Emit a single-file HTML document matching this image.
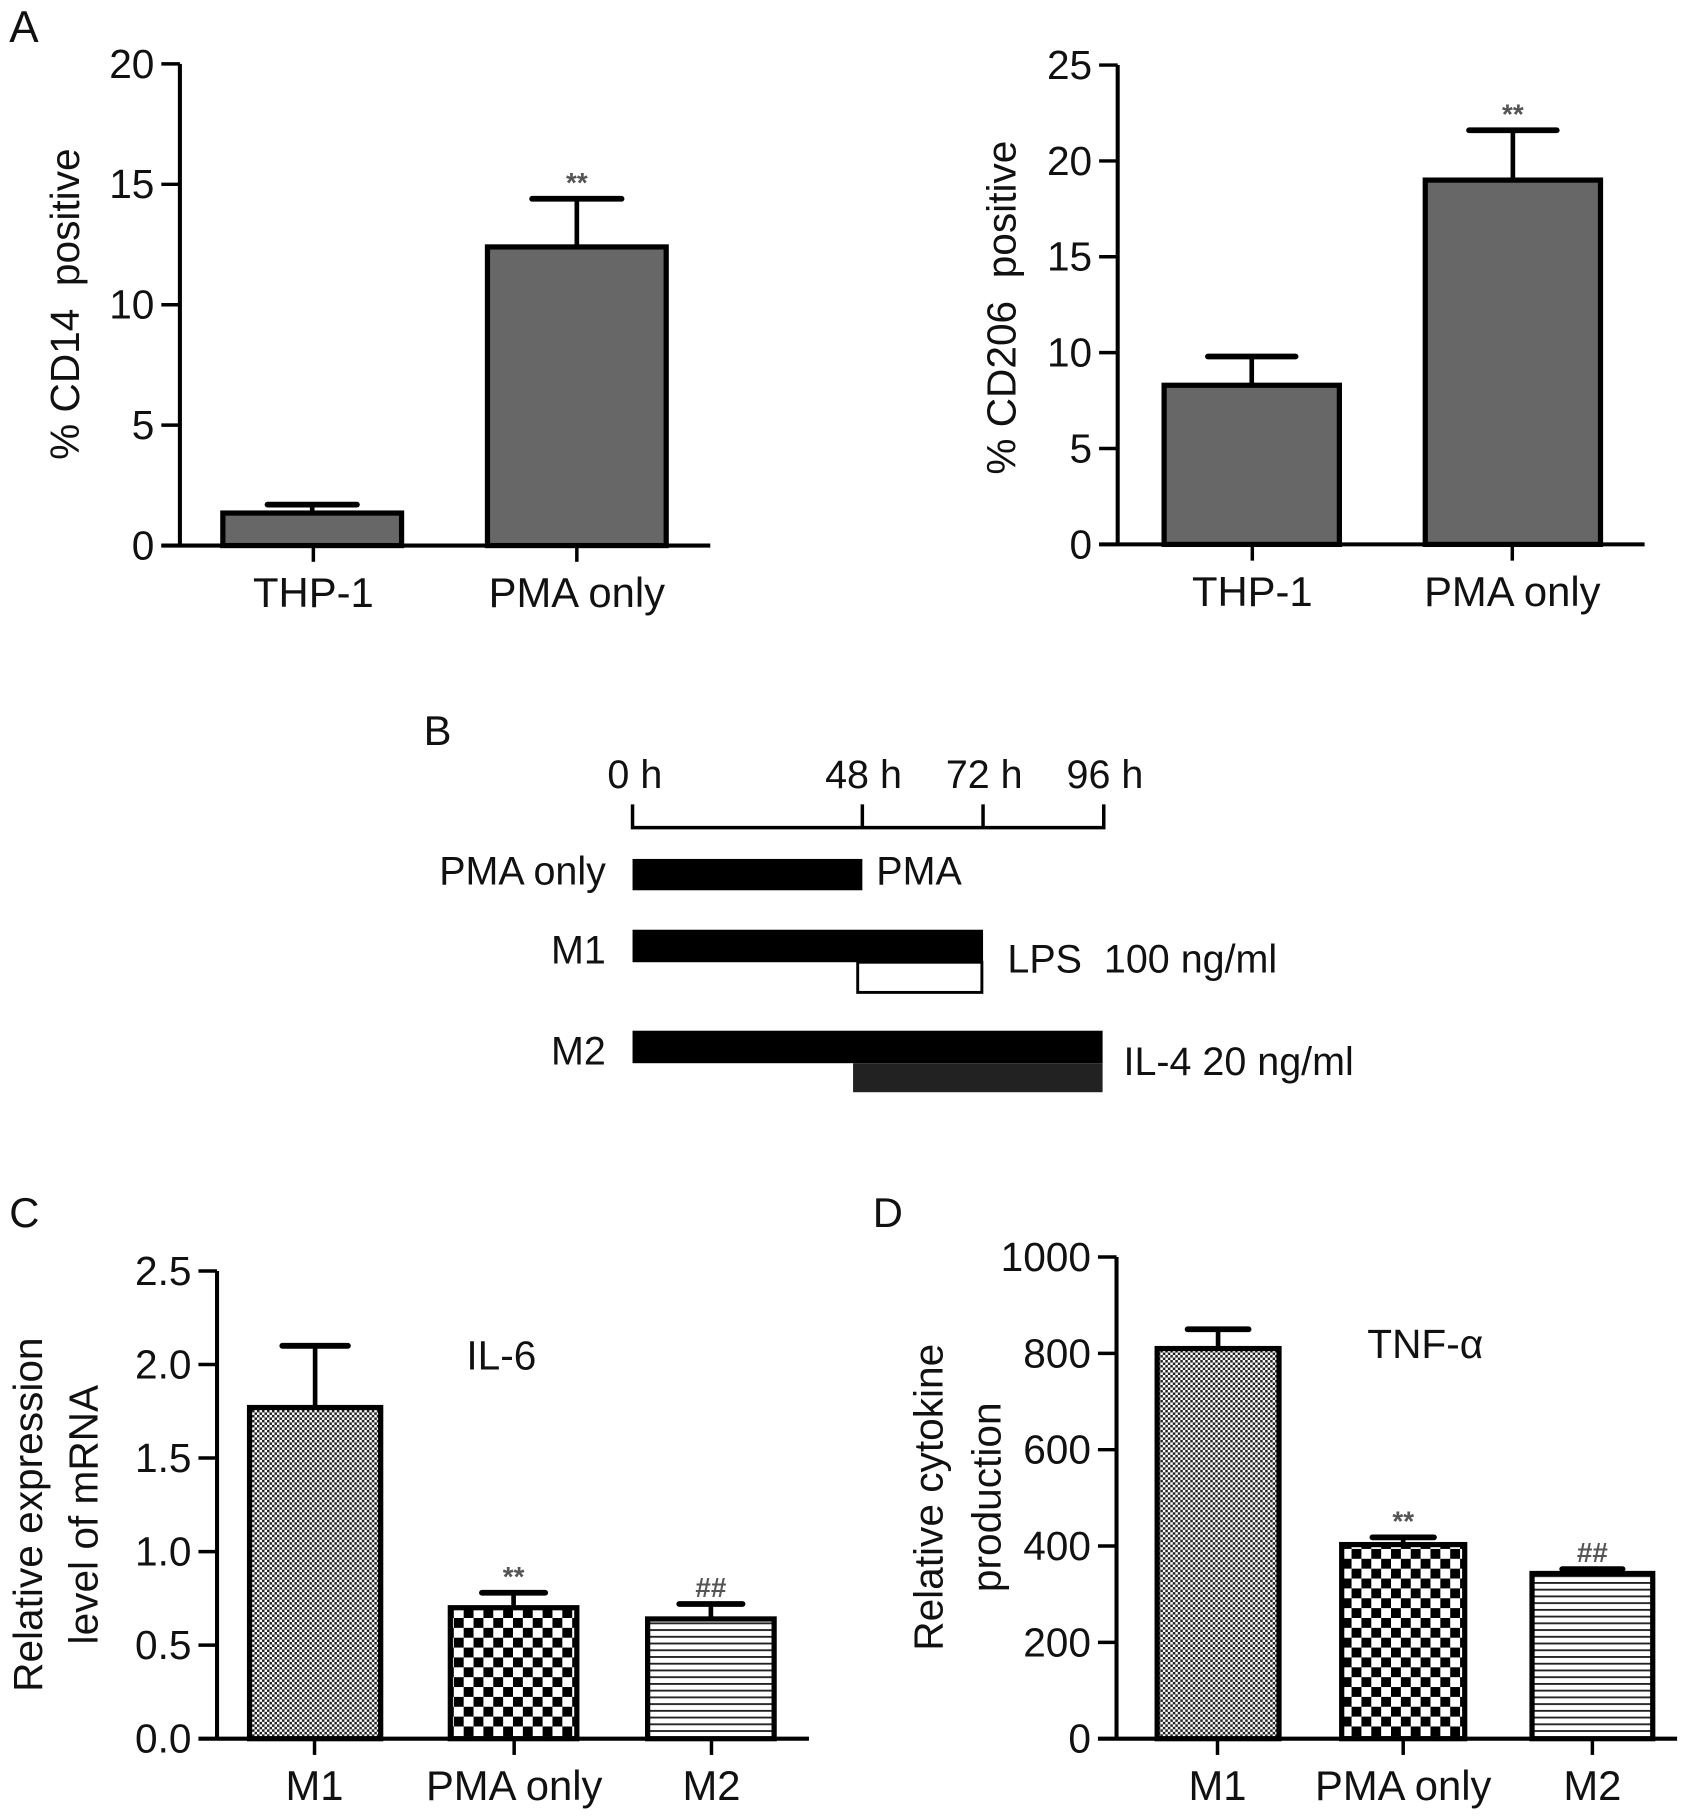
<!DOCTYPE html>
<html><head><meta charset="utf-8">
<style>
html,body{margin:0;padding:0;background:#fff;}
svg{display:block;}
text{font-family:"Liberation Sans",Arial,sans-serif;fill:#111;}
</style></head>
<body>
<svg id="fig" width="1698" height="1820" viewBox="0 0 1463 1568" xmlns="http://www.w3.org/2000/svg">
<defs>
<pattern id="pFine" patternUnits="userSpaceOnUse" width="4.3" height="4.3">
<rect width="4.3" height="4.3" fill="#fff"/>
<rect width="2.15" height="2.15" fill="#222"/>
<rect x="2.15" y="2.15" width="2.15" height="2.15" fill="#222"/>
</pattern>
<pattern id="pCheck" patternUnits="userSpaceOnUse" width="17" height="17">
<rect width="17" height="17" fill="#fff"/>
<rect width="8.5" height="8.5" fill="#000"/>
<rect x="8.5" y="8.5" width="8.5" height="8.5" fill="#000"/>
</pattern>
<pattern id="pLines" patternUnits="userSpaceOnUse" width="10" height="5.8">
<rect width="10" height="5.8" fill="#fff"/>
<rect y="0" width="10" height="1.6" fill="#222"/>
</pattern>
</defs>
<text x="8" y="36" font-size="38">A</text>
<text x="365" y="642" font-size="36">B</text>
<text x="8" y="1057" font-size="36">C</text>
<text x="752" y="1057" font-size="36">D</text>
<g>
<text x="547" y="679" font-size="34" text-anchor="middle">0 h</text>
<text x="744" y="679" font-size="34" text-anchor="middle">48 h</text>
<text x="848" y="679" font-size="34" text-anchor="middle">72 h</text>
<text x="952" y="679" font-size="34" text-anchor="middle">96 h</text>
<path d="M545 693 V713 H951 V693 M743 693 V713 M847 693 V713" fill="none" stroke="#000" stroke-width="3"/>
<rect x="545" y="740" width="198" height="27" fill="#000"/>
<text x="522" y="762" font-size="34" text-anchor="end">PMA only</text>
<text x="755" y="762" font-size="34">PMA</text>
<rect x="545" y="801" width="302" height="28" fill="#000"/>
<rect x="739" y="829" width="107" height="26" fill="#fff" stroke="#000" stroke-width="2.5"/>
<text x="522" y="830" font-size="34" text-anchor="end">M1</text>
<text x="868" y="838" font-size="34">LPS&#160;&#160;100 ng/ml</text>
<rect x="545" y="888" width="405" height="28" fill="#000"/>
<rect x="735" y="916" width="215" height="25" fill="#222"/>
<text x="522" y="917" font-size="34" text-anchor="end">M2</text>
<text x="968" y="926" font-size="34">IL-4 20 ng/ml</text>
</g>
<g id="root"></g>
</svg>
<script>
// Panel A left
const catsA = ["THP-1", "PMA only"];
const valsA1 = [1.35, 12.4];
const errA1 = [1.7, 14.4];
const ticksA1 = [0, 5, 10, 15, 20];
// Panel A right
const valsA2 = [8.3, 19.0];
const errA2 = [9.8, 21.6];
const ticksA2 = [0, 5, 10, 15, 20, 25];
// Panel C
const catsC = ["M1", "PMA only", "M2"];
const valsC = [1.77, 0.70, 0.64];
const errC = [2.10, 0.78, 0.72];
const ticksC = ["0.0", "0.5", "1.0", "1.5", "2.0", "2.5"];
// Panel D
const catsD = ["M1", "PMA only", "M2"];
const valsD = [810, 403, 343];
const errD = [850, 418, 352];
const ticksD = [0, 200, 400, 600, 800, 1000];
const sigA = ["", "**"];
const sigCD = ["", "**", "##"];

const NS = "http://www.w3.org/2000/svg";
const root = document.getElementById('root');
function mk(tag, attrs, parent, txt) {
  const e = document.createElementNS(NS, tag);
  for (const k in attrs) e.setAttribute(k, attrs[k]);
  if (txt !== undefined) e.textContent = txt;
  (parent || root).appendChild(e);
  return e;
}

function chart(o) {
  const g = mk('g', {});
  
  
  const y = v => o.y0 - (v - o.vmin) / (o.vmax - o.vmin) * (o.y0 - o.yTop);
  o.vals.forEach((v, i) => {
    const [l, r] = o.bars[i];
    const cx = (l + r) / 2, w = r - l;
    const eb = mk('line', {x1: cx, x2: cx, y1: y(v), y2: y(o.errs[i]), stroke: '#000', 'stroke-width': 4}, g);
    
    
    const cap = mk('line', {x1: cx - w * 0.25, x2: cx + w * 0.25, y1: y(o.errs[i]), y2: y(o.errs[i]), stroke: '#000', 'stroke-width': 5, 'stroke-linecap': 'round'}, g);
    
    
    const b = mk('rect', {x: l, y: y(v), width: w, height: o.y0 - y(v), fill: o.fills[i], stroke: '#000', 'stroke-width': 4.5}, g);
    
    
    if (o.sig[i]) {
      const s = mk('text', {x: cx, y: y(o.errs[i]) - 6, 'text-anchor': 'middle', 'font-size': 24, style: 'fill:#555;font-weight:bold'}, g, o.sig[i]);
      
      
    }
    const tk = mk('line', {x1: o.ticksX[i], x2: o.ticksX[i], y1: o.y0, y2: o.y0 + 14, stroke: '#000', 'stroke-width': 3}, g);
    
    
    const lb = mk('text', {x: o.ticksX[i], y: o.y0 + 53, 'text-anchor': 'middle', 'font-size': 36}, g, o.cats[i]);
    
    
  });
  const ya = mk('line', {x1: o.ax, x2: o.ax, y1: o.yTop, y2: o.y0, stroke: '#000', 'stroke-width': 3.5}, g);
  
  
  const xa = mk('line', {x1: o.ax - 16, x2: o.xEnd, y1: o.y0, y2: o.y0, stroke: '#000', 'stroke-width': 3.5}, g);
  
  
  o.ticks.forEach(t => {
    const v = parseFloat(t);
    const tl = mk('line', {x1: o.ax - 16, x2: o.ax, y1: y(v), y2: y(v), stroke: '#000', 'stroke-width': 3}, g);
    
    
    const tt = mk('text', {x: o.ax - 22, y: y(v) + 12, 'text-anchor': 'end', 'font-size': 35}, g, String(t));
    
    
  });
  o.titles.forEach(t => {
    const tx = mk('text', {x: 0, y: 0, 'text-anchor': 'middle', 'font-size': 35, transform: `translate(${t.x},${t.y}) rotate(-90)`}, g, t.s);
    
    
  });
  if (o.label) {
    const lt = mk('text', {x: o.label.x, y: o.label.y, 'text-anchor': 'middle', 'font-size': 35}, g, o.label.s);
    
    
  }
}

chart({name: 'chart-cd14', cats: catsA, vals: valsA1, errs: errA1, ticks: ticksA1, vmin: 0, vmax: 20,
  ax: 155, yTop: 55, y0: 470, xEnd: 612, bars: [[192, 346], [420, 574]], ticksX: [270, 497],
  fills: ['#676767', '#676767'], sig: sigA, titles: [{x: 68, y: 262, s: '% CD14\u00a0\u00a0positive'}]});
chart({name: 'chart-cd206', cats: catsA, vals: valsA2, errs: errA2, ticks: ticksA2, vmin: 0, vmax: 25,
  ax: 963, yTop: 56, y0: 469, xEnd: 1417, bars: [[1003, 1154], [1228, 1379]], ticksX: [1079, 1303],
  fills: ['#676767', '#676767'], sig: sigA, titles: [{x: 875, y: 265, s: '% CD206\u00a0\u00a0positive'}]});
chart({name: 'chart-il6', cats: catsC, vals: valsC, errs: errC, ticks: ticksC, vmin: 0, vmax: 2.5,
  ax: 187, yTop: 1095, y0: 1498, xEnd: 697, bars: [[215, 328], [388, 497], [558, 667]], ticksX: [271, 443, 613],
  fills: ['url(#pFine)', 'url(#pCheck)', 'url(#pLines)'], sig: sigCD,
  titles: [{x: 36, y: 1305, s: 'Relative expression'}, {x: 84, y: 1305, s: 'level of mRNA'}],
  label: {x: 432, y: 1180, s: 'IL-6'}});
chart({name: 'chart-tnf', cats: catsD, vals: valsD, errs: errD, ticks: ticksD, vmin: 0, vmax: 1000,
  ax: 962, yTop: 1083, y0: 1498, xEnd: 1445, bars: [[997, 1102], [1156, 1262], [1320, 1424]], ticksX: [1049, 1209, 1372],
  fills: ['url(#pFine)', 'url(#pCheck)', 'url(#pLines)'], sig: sigCD,
  titles: [{x: 812, y: 1290, s: 'Relative cytokine'}, {x: 862, y: 1290, s: 'production'}],
  label: {x: 1228, y: 1170, s: 'TNF-α'}});
</script>
</body></html>
